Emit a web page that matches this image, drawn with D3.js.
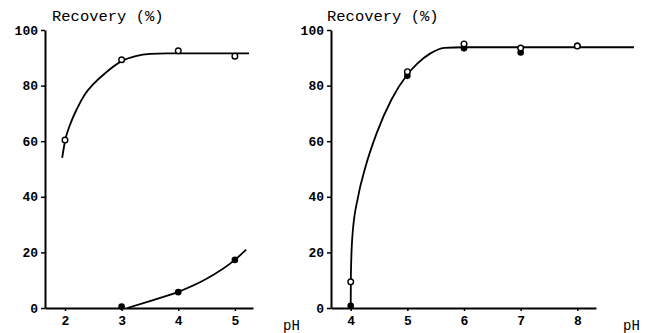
<!DOCTYPE html>
<html><head><meta charset="utf-8">
<script src="https://cdn.jsdelivr.net/npm/d3@7"></script>
<style>body{margin:0;background:#fff}svg{display:block}</style>
</head><body>
<script>
// ---- data ----
const yTicks = [0, 20, 40, 60, 80, 100];
const leftXTicks = [2, 3, 4, 5];
const rightXTicks = [4, 5, 6, 7, 8];
const leftPH = [2, 3, 4, 5];
const leftOpen = [60.4, 89.3, 92.5, 90.6];
const leftFilledPH = [3, 4, 5];
const leftFilled = [0.5, 5.7, 17.3];
const leftOpenCurvePH = [1.95, 2.0, 2.1, 2.22, 2.35, 2.5, 2.7, 3.0, 3.25, 3.5, 3.8, 5.25];
const leftOpenCurve = [54, 60, 66.5, 72, 76.8, 80.5, 84.3, 88.8, 90.6, 91.4, 91.6, 91.6];
const leftFilledCurvePH = [3.1, 3.5, 4.0, 4.5, 5.0, 5.2];
const leftFilledCurve = [0, 2.5, 5.8, 10.5, 17.3, 21];
const rightPH = [4, 5, 6, 7, 8];
const rightOpen = [9.4, 85, 95, 93.5, 94.2];
const rightFilled = [0.8, 83.5, 93.4, 91.9, 94.3];
const rightCurvePH = [4.0, 4.003, 4.03, 4.13, 4.25, 4.46, 4.72, 5.0, 5.18, 5.4, 5.65, 6.0, 9.0];
const rightCurve = [0, 12, 26, 40, 50, 63, 75, 84, 88, 91.5, 93.6, 93.8, 93.8];

const W = 646, H = 333;
const svg = d3.select("body").append("svg").attr("width", W).attr("height", H);
const FONT = "'Liberation Mono', 'DejaVu Sans Mono', monospace";

function panel(o) {
  const x = d3.scaleLinear().domain(o.xDomain).range(o.xRange);
  const y = d3.scaleLinear().domain([0, 100]).range([308, 30]);
  const g = svg.append("g");
  const ya = g.append("g").attr("transform", `translate(${o.xRange[0]},0)`)
    .call(d3.axisLeft(y).tickValues(yTicks).tickFormat(d3.format("d")).tickSize(4).tickPadding(3).tickSizeOuter(0));
  const xa = g.append("g").attr("transform", `translate(0,308)`)
    .call(d3.axisBottom(x).tickValues(o.xTicks).tickFormat(d3.format("d")).tickSize(3).tickPadding(5).tickSizeOuter(0));
  [ya, xa].forEach(a => {
    a.select(".domain").attr("stroke", "#000").attr("stroke-width", 2);
    a.selectAll(".tick line").attr("stroke", "#000").attr("stroke-width", 1.5);
    a.selectAll("text").attr("font-family", FONT).attr("font-size", 13).attr("font-weight", "bold").attr("fill", "#000");
  });
  g.append("text").attr("x", o.titleX).attr("y", 21).text("Recovery (%)")
    .attr("font-family", FONT).attr("font-size", 15.5).attr("fill", "#000");
  g.append("text").attr("x", o.phX).attr("y", 330).text("pH")
    .attr("font-family", FONT).attr("font-size", 14).attr("fill", "#000");
  const line = d3.line().x(d => x(d[0])).y(d => y(d[1])).curve(d3.curveMonotoneX);
  o.curves.forEach(c => {
    g.append("path").attr("d", line(d3.zip(c[0], c[1])))
      .attr("fill", "none").attr("stroke", "#000").attr("stroke-width", 1.8);
  });
  o.filled.forEach(s => {
    g.selectAll(null).data(d3.zip(s[0], s[1])).join("circle")
      .attr("cx", d => x(d[0])).attr("cy", d => y(d[1])).attr("r", 3.3).attr("fill", "#000");
  });
  o.open.forEach(s => {
    g.selectAll(null).data(d3.zip(s[0], s[1])).join("circle")
      .attr("cx", d => x(d[0])).attr("cy", d => y(d[1])).attr("r", 2.8)
      .attr("fill", "#fff").attr("stroke", "#000").attr("stroke-width", 1.4);
  });
}

panel({
  xDomain: [1.647, 5.32], xRange: [45, 253], xTicks: leftXTicks,
  titleX: 52, phX: 283,
  curves: [[leftOpenCurvePH, leftOpenCurve], [leftFilledCurvePH, leftFilledCurve]],
  filled: [[leftFilledPH, leftFilled]], open: [[leftPH, leftOpen]]
});
panel({
  xDomain: [3.652, 8.33], xRange: [331, 596], xTicks: rightXTicks,
  titleX: 327, phX: 623,
  curves: [[rightCurvePH, rightCurve]],
  filled: [[rightPH, rightFilled]], open: [[rightPH, rightOpen]]
});
</script>
</body></html>
